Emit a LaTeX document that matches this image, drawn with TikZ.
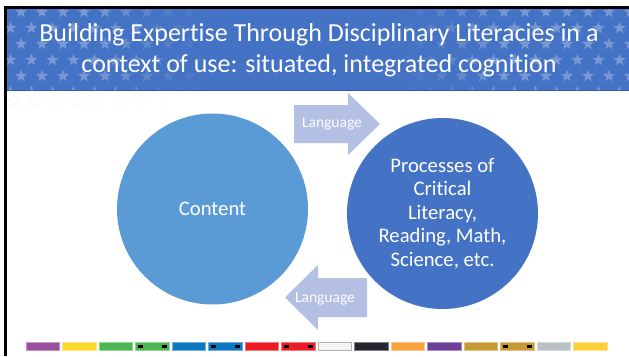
\documentclass[tikz,border=0pt]{standalone}
\usepackage{fontspec}
\setmainfont{Carlito}[Ligatures={NoCommon,NoRare,NoContextual}]
\usetikzlibrary{shapes.geometric}

\definecolor{bandblue}{HTML}{4472C4}
\definecolor{bandline}{HTML}{2E5CA8}
\definecolor{contentblue}{HTML}{5B9BD5}
\definecolor{procblue}{HTML}{4472C4}
\definecolor{arrowfill}{HTML}{B4C0E3}
\definecolor{cA}{HTML}{9B4F9E}
\definecolor{cB}{HTML}{FFD92E}
\definecolor{cC}{HTML}{4DB852}
\definecolor{cD}{HTML}{0B78C1}
\definecolor{cE}{HTML}{ED1C24}
\definecolor{cF}{HTML}{F4F4F4}
\definecolor{cG}{HTML}{272530}
\definecolor{cH}{HTML}{F8A03A}
\definecolor{cI}{HTML}{6E3F96}
\definecolor{cJ}{HTML}{C99933}
\definecolor{cK}{HTML}{BBC0C3}
\definecolor{cL}{HTML}{FFCE3B}

\tikzset{
  starmark/.style={star, star points=5, star point ratio=2.5, minimum size=13,
    inner sep=0, fill=white},
  starghost/.style={star, star points=5, star point ratio=2.5, minimum size=14,
    inner sep=0, draw=gray!35, line width=0.4},
  bubble/.style={circle, minimum size=191, inner sep=0, text=white,
    font=\fontsize{20.7}{23.5}\selectfont, align=center},
  titletext/.style={text=white, font=\fontsize{26}{31}\selectfont, align=center},
  arrowbody/.style={fill=arrowfill},
  arrowlabel/.style={text=white, font=\fontsize{15.5}{18}\selectfont, inner sep=0}
}

\begin{document}
\begin{tikzpicture}[x=1pt,y=-1pt]
\useasboundingbox (0,0) rectangle (629,356);
\fill[white] (0,0) rectangle (629,356);

% slide frame
\fill[black] (4,6) rectangle (629,9);
\fill[black] (4,6) rectangle (6.5,356);

% title band with star pattern
\fill[bandblue] (6.5,9) rectangle (629,91);
\begin{scope}
  \clip (6.5,9) rectangle (629,90);
  \foreach \r in {0,...,5}{
    \foreach \c in {0,...,30}{
      \pgfmathsetmacro{\sx}{\c*21 + mod(\r,2)*10.5}
      \pgfmathsetmacro{\sy}{12+\r*16}
      \pgfmathsetmacro{\op}{max(0,min(0.28,(abs(\sx-300)-90)/420))}
      \node[starmark, opacity=\op] at (\sx,\sy) {};
    }
  }
\end{scope}
\draw[bandline, line width=0.8] (6.5,90.6) -- (629,90.6);

% faint star outlines under the band
\foreach \c in {0,...,7}{
  \pgfmathsetmacro{\sx}{14+\c*21}
  \pgfmathsetmacro{\op}{max(0,0.3-\c*0.035)}
  \node[starghost, opacity=\op] at (\sx,101) {};
}

\node[titletext] (title) at (319,50.5)
  {Building Expertise Through Disciplinary Literacies in a\\
   context of use: situated, integrated cognition};

% the two circles
\node[bubble, fill=contentblue] (content) at (212.5,209) {Content};
\node[bubble, fill=procblue] (proc) at (442.5,213.5)
  {Processes of\\Critical\\Literacy,\\Reading, Math,\\Science, etc.};

% language arrows between them
\fill[arrowbody] (294,105) -- (348,105) -- (348,93) -- (380,124)
  -- (348,155) -- (348,143) -- (294,143) -- cycle;
\node[arrowlabel] (langtop) at (332,124) {Language};

\fill[arrowbody] (367,278) -- (318,278) -- (318,265) -- (285,297.5)
  -- (318,330) -- (318,317) -- (367,317) -- cycle;
\node[arrowlabel] (langbot) at (325,299) {Language};

% colour strip along the bottom
\foreach \col/\mk/\bd [count=\i from 0] in
  {cA/0/cA, cB/0/cB, cC/0/cC, cC/1/cC, cD/0/cD, cD/1/cD, cE/0/cE, cE/1/cE,
   cF/0/gray, cG/0/cG, cH/0/cH, cI/0/cI, cJ/0/cJ, cJ/1/cJ, cK/0/cK, cL/0/cL}{
  \pgfmathsetmacro{\bx}{26+36.5*\i}
  \fill[\col, draw=\bd!60!white, line width=0.6] (\bx,342.5) rectangle ++(33.5,8);
  \ifnum\mk=1
    \fill[black] (\bx+2,345.3) rectangle ++(5,2.6);
    \fill[black] (\bx+26.5,345.3) rectangle ++(5,2.6);
  \fi
}
\end{tikzpicture}
\end{document}
